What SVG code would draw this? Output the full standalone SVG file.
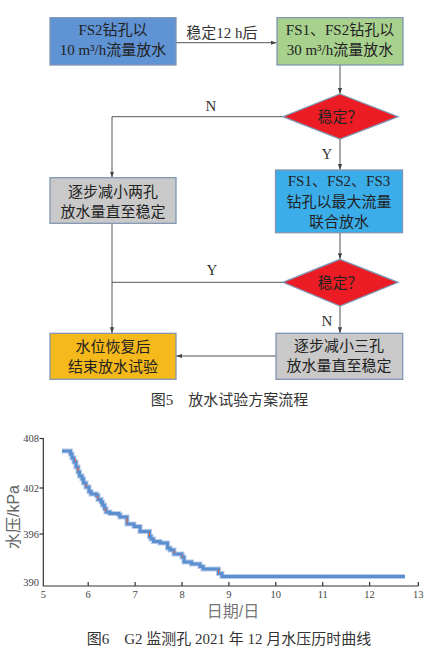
<svg xmlns="http://www.w3.org/2000/svg" width="443" height="654" viewBox="0 0 443 654">
<defs>
<style>
.box{stroke:#8096b2;stroke-width:1.3}
.t{font-family:"Liberation Serif","Noto Sans CJK SC",serif;font-size:15px;fill:#222;text-anchor:middle}
.lbl{font-family:"Liberation Serif","Noto Sans CJK SC",serif;font-size:15px;fill:#333;text-anchor:middle}
.cn{stroke:#555;stroke-width:1;fill:none}
.ax{stroke:#333;stroke-width:1.2;fill:none}
.tk{font-family:"Liberation Serif",serif;font-size:10.5px;fill:#444}
.cap{font-family:"Liberation Serif","Noto Sans CJK SC",serif;font-size:15px;fill:#333;text-anchor:middle}
</style>
<marker id="ah" viewBox="0 0 10 10" refX="10" refY="5" markerWidth="6" markerHeight="6" orient="auto" markerUnits="userSpaceOnUse">
<path d="M0,1.5 L10,5 L0,8.5 z" fill="#444"/>
</marker>
</defs>
<rect width="443" height="654" fill="#fff"/>

<g id="connectors">
<line class="cn" x1="176" y1="42.7" x2="276.5" y2="42.7" marker-end="url(#ah)"/>
<line class="cn" x1="340" y1="65" x2="340" y2="94" marker-end="url(#ah)"/>
<polyline class="cn" points="283,116.7 112,116.7 112,177.5" marker-end="url(#ah)"/>
<line class="cn" x1="340" y1="139" x2="340" y2="170" marker-end="url(#ah)"/>
<line class="cn" x1="340" y1="232.7" x2="340" y2="259.3" marker-end="url(#ah)"/>
<line class="cn" x1="283" y1="282.3" x2="112" y2="282.3"/>
<line class="cn" x1="112" y1="223.3" x2="112" y2="333.3" marker-end="url(#ah)"/>
<line class="cn" x1="340" y1="306" x2="340" y2="333.3" marker-end="url(#ah)"/>
<line class="cn" x1="276" y1="356" x2="176" y2="356" marker-end="url(#ah)"/>
<text class="lbl" x="222" y="37.5">稳定12 h后</text>
<text class="lbl" x="211" y="111">N</text>
<text class="lbl" x="327" y="159">Y</text>
<text class="lbl" x="212" y="275">Y</text>
<text class="lbl" x="327" y="326">N</text>
</g>

<g id="n1">
<rect class="box" x="50" y="17.7" width="126" height="47.3" fill="#5f93d3"/>
<text class="t" x="113" y="35">FS2钻孔以</text>
<text class="t" x="113" y="55">10 m³/h流量放水</text>
</g>
<g id="n2">
<rect class="box" x="277" y="17.7" width="126" height="47.3" fill="#a9d18e"/>
<text class="t" x="340" y="35">FS1、FS2钻孔以</text>
<text class="t" x="340" y="55">30 m³/h流量放水</text>
</g>
<g id="d1">
<polygon class="box" points="340,94 398,116.7 340,139 283,116.7" fill="#ec1c24"/>
<text class="t" x="340" y="122">稳定？</text>
</g>
<g id="n3">
<rect class="box" x="50" y="177.7" width="126" height="45.6" fill="#c9c9c9"/>
<text class="t" x="113" y="197">逐步减小两孔</text>
<text class="t" x="113" y="217">放水量直至稳定</text>
</g>
<g id="n4">
<rect class="box" x="275.5" y="170" width="127" height="62.7" fill="#3baeea"/>
<text class="t" x="339" y="185.5">FS1、FS2、FS3</text>
<text class="t" x="339" y="206.5">钻孔以最大流量</text>
<text class="t" x="339" y="226.5">联合放水</text>
</g>
<g id="d2">
<polygon class="box" points="340,259.3 398,282.3 340,306 283,282.3" fill="#ec1c24"/>
<text class="t" x="340" y="287.5">稳定？</text>
</g>
<g id="n5">
<rect class="box" x="50" y="333.3" width="126" height="46" fill="#f5b91c"/>
<text class="t" x="113" y="351.5">水位恢复后</text>
<text class="t" x="113" y="371.5">结束放水试验</text>
</g>
<g id="n6">
<rect class="box" x="276" y="333.3" width="126.7" height="46" fill="#c9c9c9"/>
<text class="t" x="339" y="350.5">逐步减小三孔</text>
<text class="t" x="339" y="370.5">放水量直至稳定</text>
</g>

<text class="cap" x="229.5" y="405">图5　放水试验方案流程</text>

<g id="chart">
<path d="M62,451 H70.5 V454 H72 V458 H74 V462 H76 V467 H78 V472 H79.5 V476 H82 V479 H83.5 V483 H86 V487 H89 V491.5 H91 V494 H96.5 V495.5 H98 V499.5 H101 V502 H102.5 V505 H104.5 V508.5 H106 V512 H110 V513.5 H118.5 V514.5 H120 V517 H127 V524 H134 V526.5 H140 V531.5 H149.5 V536.5 H151 V539 H153.5 V541.5 H160 V543 H167.5 V548 H170 V550 H174 V554 H182 V557 H184 V562 H191.5 V564 H200 V566.5 H203 V569 H218.5 V573.5 H222 V576.5 H405" fill="none" stroke="#b9cdea" stroke-width="5"/>
<path d="M62,451 H70.5 V454 H72 V458 H74 V462 H76 V467 H78 V472 H79.5 V476 H82 V479 H83.5 V483 H86 V487 H89 V491.5 H91 V494 H96.5 V495.5 H98 V499.5 H101 V502 H102.5 V505 H104.5 V508.5 H106 V512 H110 V513.5 H118.5 V514.5 H120 V517 H127 V524 H134 V526.5 H140 V531.5 H149.5 V536.5 H151 V539 H153.5 V541.5 H160 V543 H167.5 V548 H170 V550 H174 V554 H182 V557 H184 V562 H191.5 V564 H200 V566.5 H203 V569 H218.5 V573.5 H222 V576.5 H405" fill="none" stroke="#5b8fd0" stroke-width="3"/>
<g stroke="#e8603c" stroke-width="1">
<line x1="75.5" y1="459" x2="75.5" y2="462"/>
<line x1="78" y1="467" x2="78" y2="471"/>
<line x1="86.3" y1="484" x2="86.3" y2="487"/>
<line x1="97.7" y1="496" x2="97.7" y2="499"/>
<line x1="105.7" y1="508.5" x2="105.7" y2="511.5"/>
<line x1="127" y1="517.5" x2="127" y2="523.5"/>
<line x1="149.5" y1="532" x2="149.5" y2="536"/>
<line x1="174" y1="550.5" x2="174" y2="553.5"/>
<line x1="182.5" y1="555" x2="182.5" y2="557"/>
<line x1="218.5" y1="569.5" x2="218.5" y2="573"/>
</g>
<polyline class="ax" points="43.3,438 43.3,586 418.3,586"/>
<g class="ax">
<line x1="88.2" y1="586" x2="88.2" y2="582"/>
<line x1="135.1" y1="586" x2="135.1" y2="582"/>
<line x1="182" y1="586" x2="182" y2="582"/>
<line x1="228.9" y1="586" x2="228.9" y2="582"/>
<line x1="275.8" y1="586" x2="275.8" y2="582"/>
<line x1="322.7" y1="586" x2="322.7" y2="582"/>
<line x1="369.6" y1="586" x2="369.6" y2="582"/>
<line x1="418.3" y1="586" x2="418.3" y2="582"/>
<line x1="43.3" y1="438.5" x2="39.5" y2="438.5"/>
<line x1="43.3" y1="488" x2="39.5" y2="488"/>
<line x1="43.3" y1="534" x2="39.5" y2="534"/>
</g>
<g class="tk" text-anchor="end">
<text x="39" y="442">408</text>
<text x="39" y="491.5">402</text>
<text x="39" y="537.5">396</text>
<text x="39" y="586">390</text>
</g>
<g class="tk" text-anchor="middle">
<text x="43.3" y="597.5">5</text>
<text x="88.2" y="597.5">6</text>
<text x="135.1" y="597.5">7</text>
<text x="182" y="597.5">8</text>
<text x="228.9" y="597.5">9</text>
<text x="275.8" y="597.5">10</text>
<text x="322.7" y="597.5">11</text>
<text x="369.6" y="597.5">12</text>
<text x="418.3" y="597.5">13</text>
</g>
<text x="0" y="0" transform="translate(19,517) rotate(-90)" text-anchor="middle" font-family="Liberation Sans,Noto Sans CJK SC,sans-serif" font-size="16" fill="#666">水压/kPa</text>
<text x="233" y="617" text-anchor="middle" font-family="Liberation Sans,Noto Sans CJK SC,sans-serif" font-size="16" fill="#777">日期/日</text>
</g>
<text class="cap" x="229" y="644">图6　G2 监测孔 2021 年 12 月水压历时曲线</text>
</svg>
